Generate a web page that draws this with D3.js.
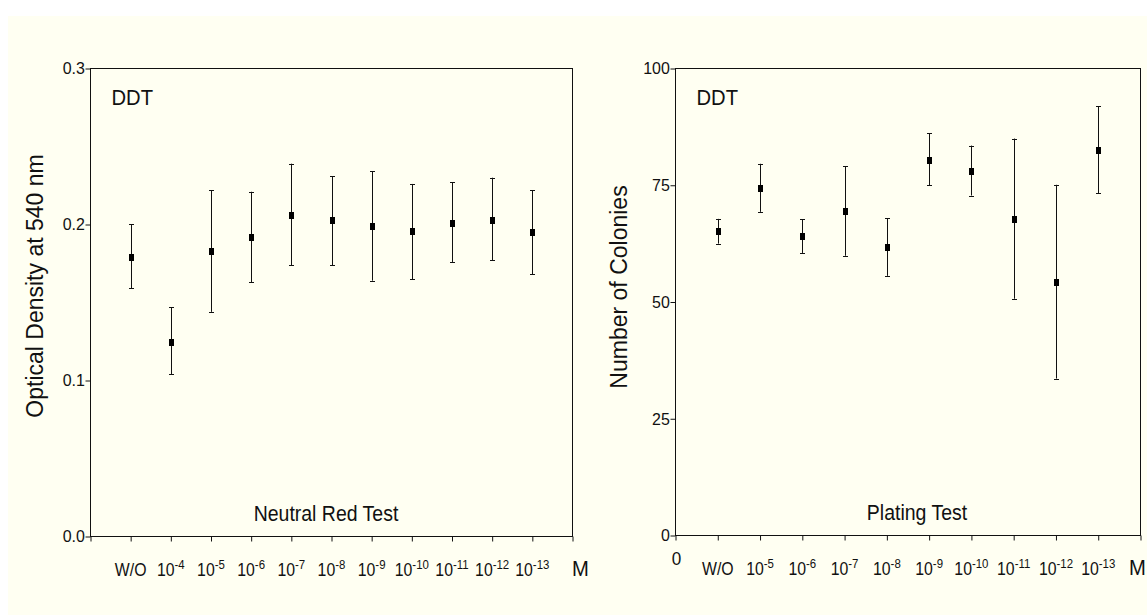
<!DOCTYPE html>
<html>
<head>
<meta charset="utf-8">
<script src="https://cdn.jsdelivr.net/npm/d3@7"></script>
<style>
  html, body { margin: 0; padding: 0; background: #ffffff; }
  svg { display: block; font-family: 'Liberation Sans', Arial, sans-serif; }
</style>
</head>
<body>
<div id="chart"></div>
<script>
// Neutral Red Test (left panel)
const nrDoses = ['W/O', '-4', '-5', '-6', '-7', '-8', '-9', '-10', '-11', '-12', '-13']
const nrMean = [0.179, 0.125, 0.183, 0.192, 0.206, 0.203, 0.199, 0.196, 0.201, 0.203, 0.195]
const nrLow = [0.159, 0.104, 0.144, 0.163, 0.174, 0.174, 0.164, 0.165, 0.176, 0.177, 0.168]
const nrHigh = [0.200, 0.147, 0.222, 0.221, 0.239, 0.231, 0.234, 0.226, 0.227, 0.230, 0.222]
const nrYTicks = [0, 0.1, 0.2, 0.3]

// Plating Test (right panel)
const ptDoses = ['W/O', '-5', '-6', '-7', '-8', '-9', '-10', '-11', '-12', '-13']
const ptMean = [65.1, 74.5, 64.1, 69.4, 61.7, 80.5, 78.1, 67.8, 54.3, 82.6]
const ptLow = [62.5, 69.3, 60.5, 59.9, 55.6, 75.0, 72.8, 50.7, 33.6, 73.3]
const ptHigh = [67.8, 79.6, 67.7, 79.1, 67.9, 86.1, 83.5, 85.0, 75.1, 91.9]
const ptYTicks = [0, 25, 50, 75, 100]

const W = 1147
const H = 615
const BG = '#fffff2'
const INK = '#111111'

const svg = d3.select('#chart').append('svg')
  .attr('width', W)
  .attr('height', H)
  .attr('viewBox', `0 0 ${W} ${H}`)

svg.append('rect')
  .attr('x', 8).attr('y', 16)
  .attr('width', W - 8).attr('height', H - 16)
  .attr('fill', BG)

// the original lettering is a little squeezed sideways
function label(g, x, y, size, sx, anchor = 'start') {
  return g.append('text')
    .attr('transform', `translate(${x},${y}) scale(${sx},1)`)
    .attr('font-size', size)
    .attr('text-anchor', anchor)
    .attr('fill', INK)
}

function drawPanel(opts) {
  const { left, right, top, bottom, doses, mean, low, high, yTicks, yFmt, yTitle, titleX, titleY, test, testX, showZero, mOffset } = opts
  const n = doses.length + 1
  const x = d3.scaleLinear().domain([0, n]).range([left, right])
  const y = d3.scaleLinear().domain([yTicks[0], yTicks[yTicks.length - 1]]).range([bottom, top])
  const g = svg.append('g')

  // frame
  g.append('rect')
    .attr('x', left).attr('y', top)
    .attr('width', right - left).attr('height', bottom - top)
    .attr('fill', 'none')
    .attr('stroke', INK)
    .attr('stroke-width', 1)

  // bottom ticks
  g.append('g')
    .attr('transform', `translate(0,${bottom})`)
    .call(d3.axisBottom(x).tickValues(d3.range(0, n + 1)).tickSize(5).tickFormat(''))
    .call((a) => a.select('.domain').remove())
    .call((a) => a.selectAll('line').attr('stroke', INK))

  // left axis
  g.append('g')
    .attr('transform', `translate(${left},0)`)
    .call(d3.axisLeft(y).tickValues(yTicks).tickSize(5).tickPadding(1).tickFormat(yFmt))
    .call((a) => a.select('.domain').remove())
    .call((a) => a.selectAll('line').attr('stroke', INK))
    .call((a) => a.selectAll('text')
      .attr('font-size', 17)
      .attr('font-family', "'Liberation Sans', Arial, sans-serif")
      .attr('transform', 'scale(0.94,1)')
      .attr('fill', INK))

  // dose labels
  const labelY = bottom + 39
  doses.forEach((d, i) => {
    const t = label(g, x(i + 1), labelY, 18, 0.88, 'middle')
    if (d === 'W/O') {
      t.text('W/O')
    } else {
      t.append('tspan').text('10')
      t.append('tspan').attr('font-size', 13).attr('dy', -7).text(d)
    }
  })
  if (showZero) {
    label(g, x(0) + 1, bottom + 29, 19, 0.9, 'middle').text('0')
  }
  label(g, x(n) + mOffset, labelY, 22, 0.92, 'middle').text('M')

  // y title
  g.append('text')
    .attr('transform', `translate(${titleX},${titleY}) rotate(-90)`)
    .attr('font-size', 23).attr('text-anchor', 'middle').attr('fill', INK)
    .text(yTitle)

  // DDT + test name
  label(g, left + 21, top + 36, 22, 0.92).text('DDT')
  label(g, testX, bottom - 16, 22, 0.885, 'middle').text(test)

  // error bars
  const pts = doses.map((d, i) => ({ i: i + 1, m: mean[i], lo: low[i], hi: high[i] }))
  const bars = g.append('g').attr('stroke', INK).attr('stroke-width', 1)
  bars.selectAll('line.v').data(pts).join('line')
    .attr('x1', (d) => Math.round(x(d.i)) + 0.5).attr('x2', (d) => Math.round(x(d.i)) + 0.5)
    .attr('y1', (d) => y(d.lo)).attr('y2', (d) => y(d.hi))
  bars.selectAll('line.hi').data(pts).join('line')
    .attr('x1', (d) => Math.round(x(d.i)) - 2).attr('x2', (d) => Math.round(x(d.i)) + 3)
    .attr('y1', (d) => Math.round(y(d.hi)) + 0.5).attr('y2', (d) => Math.round(y(d.hi)) + 0.5)
  bars.selectAll('line.lo').data(pts).join('line')
    .attr('x1', (d) => Math.round(x(d.i)) - 2).attr('x2', (d) => Math.round(x(d.i)) + 3)
    .attr('y1', (d) => Math.round(y(d.lo)) + 0.5).attr('y2', (d) => Math.round(y(d.lo)) + 0.5)

  g.append('g').selectAll('rect').data(pts).join('rect')
    .attr('x', (d) => Math.round(x(d.i)) - 2)
    .attr('y', (d) => Math.round(y(d.m)) - 3)
    .attr('width', 5).attr('height', 7)
    .attr('fill', '#000')
}

drawPanel({
  left: 90.5, right: 572.5, top: 68.5, bottom: 536.5,
  doses: nrDoses, mean: nrMean, low: nrLow, high: nrHigh,
  yTicks: nrYTicks, yFmt: d3.format('.1f'),
  yTitle: 'Optical Density at 540 nm', titleX: 43, titleY: 286,
  test: 'Neutral Red Test', testX: 326, showZero: false, mOffset: 8,
})

drawPanel({
  left: 675.5, right: 1140.5, top: 68.5, bottom: 535.5,
  doses: ptDoses, mean: ptMean, low: ptLow, high: ptHigh,
  yTicks: ptYTicks, yFmt: d3.format('d'),
  yTitle: 'Number of Colonies', titleX: 627, titleY: 287,
  test: 'Plating Test', testX: 917, showZero: true, mOffset: -3,
})
</script>
</body>
</html>
